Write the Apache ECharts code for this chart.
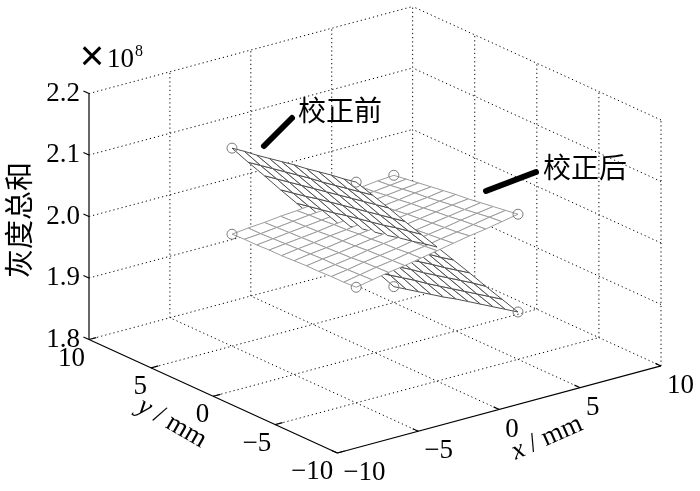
<!DOCTYPE html>
<html>
<head>
<meta charset="utf-8">
<title>灰度总和</title>
<script src="https://cdn.jsdelivr.net/npm/echarts@6/dist/echarts.min.js"></script>
<style>
    html, body { margin: 0; padding: 0; background: #fff; }
    #statistics { width: 700px; height: 491px; }
</style>
</head>
<body>
<div id="statistics"></div>
<script type="text/javascript">
    // mesh nodes (mm)
    var gridX = [-5, -4, -3, -2, -1, 0, 1, 2, 3, 4, 5];
    var gridY = [5, 4, 3, 2, 1, 0, -1, -2, -3, -4, -5];

    // 灰度总和 (x10^8), one row per gridY value, one column per gridX value
    var zBefore = [
        [2.122, 2.092, 2.063, 2.033, 2.004, 1.974, 1.944, 1.915, 1.885, 1.856, 1.826],
        [2.126, 2.096, 2.067, 2.037, 2.008, 1.978, 1.949, 1.919, 1.890, 1.861, 1.831],
        [2.129, 2.100, 2.071, 2.041, 2.012, 1.983, 1.954, 1.924, 1.895, 1.866, 1.836],
        [2.133, 2.104, 2.075, 2.046, 2.016, 1.987, 1.958, 1.929, 1.900, 1.871, 1.841],
        [2.137, 2.108, 2.079, 2.050, 2.021, 1.992, 1.963, 1.934, 1.905, 1.875, 1.846],
        [2.141, 2.112, 2.083, 2.054, 2.025, 1.996, 1.967, 1.938, 1.909, 1.880, 1.852],
        [2.144, 2.115, 2.087, 2.058, 2.029, 2.000, 1.972, 1.943, 1.914, 1.885, 1.857],
        [2.148, 2.119, 2.091, 2.062, 2.033, 2.005, 1.976, 1.948, 1.919, 1.890, 1.862],
        [2.152, 2.123, 2.095, 2.066, 2.038, 2.009, 1.981, 1.952, 1.924, 1.895, 1.867],
        [2.155, 2.127, 2.099, 2.070, 2.042, 2.014, 1.985, 1.957, 1.929, 1.900, 1.872],
        [2.159, 2.131, 2.103, 2.074, 2.046, 2.018, 1.990, 1.962, 1.933, 1.905, 1.877]
    ];
    var zAfter = [
        [1.982, 1.985, 1.987, 1.990, 1.992, 1.995, 1.997, 2.000, 2.002, 2.005, 2.007],
        [1.983, 1.985, 1.988, 1.991, 1.994, 1.996, 1.999, 2.002, 2.004, 2.007, 2.010],
        [1.983, 1.986, 1.989, 1.992, 1.995, 1.998, 2.001, 2.004, 2.007, 2.010, 2.013],
        [1.984, 1.987, 1.990, 1.993, 1.997, 2.000, 2.003, 2.006, 2.009, 2.013, 2.016],
        [1.984, 1.988, 1.991, 1.995, 1.998, 2.002, 2.005, 2.008, 2.012, 2.015, 2.019],
        [1.985, 1.989, 1.992, 1.996, 2.000, 2.003, 2.007, 2.011, 2.014, 2.018, 2.022],
        [1.986, 1.990, 1.993, 1.997, 2.001, 2.005, 2.009, 2.013, 2.017, 2.021, 2.024],
        [1.986, 1.990, 1.994, 1.999, 2.003, 2.007, 2.011, 2.015, 2.019, 2.023, 2.027],
        [1.987, 1.991, 1.996, 2.000, 2.004, 2.009, 2.013, 2.017, 2.022, 2.026, 2.030],
        [1.987, 1.992, 1.997, 2.001, 2.006, 2.010, 2.015, 2.019, 2.024, 2.029, 2.033],
        [1.988, 1.993, 1.998, 2.002, 2.007, 2.012, 2.017, 2.022, 2.026, 2.031, 2.036]
    ];

    var xyTicks = [-10, -5, 0, 5, 10];
    var xyTickText = ['\u221210', '\u22125', '0', '5', '10'];
    var zTicks = [1.8, 1.9, 2.0, 2.1, 2.2];
    var zTickText = ['1.8', '1.9', '2.0', '2.1', '2.2'];
    var xRange = [-10, 10], yRange = [-10, 10], zRange = [1.8, 2.2];

    // 视角 (like matlab view(-37.5, 20.5))
    var az = -37.5 * Math.PI / 180, el = 20.5 * Math.PI / 180, zAspect = 0.643;
    var sa = Math.sin(az), ca = Math.cos(az), se = Math.sin(el), ce = Math.cos(el);

    function norm(x, y, z) {
        return [
            (x - xRange[0]) / (xRange[1] - xRange[0]) - 0.5,
            (y - yRange[0]) / (yRange[1] - yRange[0]) - 0.5,
            ((z - zRange[0]) / (zRange[1] - zRange[0]) - 0.5) * zAspect
        ];
    }
    function proj(x, y, z) {
        var n = norm(x, y, z);
        return [n[0] * ca + n[1] * sa, -n[0] * sa * se + n[1] * ca * se + n[2] * ce];
    }
    function depth(x, y, z) {
        var n = norm(x, y, z);
        return n[0] * sa * ce - n[1] * ca * ce + n[2] * se;
    }

    // extent of the box on screen
    var hMin = Infinity, hMax = -Infinity, vMin = Infinity, vMax = -Infinity;
    [0, 1].forEach(function (i) {
        [0, 1].forEach(function (j) {
            [0, 1].forEach(function (k) {
                var p = proj(xRange[i], yRange[j], zRange[k]);
                hMin = Math.min(hMin, p[0]); hMax = Math.max(hMax, p[0]);
                vMin = Math.min(vMin, p[1]); vMax = Math.max(vMax, p[1]);
            });
        });
    });

    // dotted grid lines on the back walls and floor
    var gridSegs = [];
    xyTicks.forEach(function (x) {
        if (x > xRange[0]) {
            gridSegs.push([x, yRange[1], zRange[0], x, yRange[1], zRange[1]]);
            gridSegs.push([x, yRange[0], zRange[0], x, yRange[1], zRange[0]]);
        }
    });
    xyTicks.forEach(function (y) {
        if (y < yRange[1]) gridSegs.push([xRange[1], y, zRange[0], xRange[1], y, zRange[1]]);
        if (y > yRange[0]) gridSegs.push([xRange[0], y, zRange[0], xRange[1], y, zRange[0]]);
    });
    zTicks.forEach(function (z) {
        if (z > zRange[0]) {
            gridSegs.push([xRange[0], yRange[1], z, xRange[1], yRange[1], z]);
            gridSegs.push([xRange[1], yRange[0], z, xRange[1], yRange[1], z]);
        }
    });

    // solid axes and ticks
    var axisSegs = [
        [xRange[0], yRange[1], zRange[0], xRange[0], yRange[1], zRange[1]],
        [xRange[0], yRange[1], zRange[0], xRange[0], yRange[0], zRange[0]],
        [xRange[0], yRange[0], zRange[0], xRange[1], yRange[0], zRange[0]]
    ];
    var tickLen = 0.45;
    zTicks.forEach(function (z) { axisSegs.push([xRange[0], yRange[1], z, xRange[0], yRange[1] + tickLen, z]); });
    xyTicks.forEach(function (v) {
        axisSegs.push([v, yRange[0], zRange[0], v, yRange[0] + tickLen, zRange[0]]);
        axisSegs.push([xRange[0], v, zRange[0], xRange[0] + tickLen, v, zRange[0]]);
    });

    // mesh cells, far ones first
    var quads = [];
    [zBefore, zAfter].forEach(function (Z, s) {
        for (var r = 0; r < gridY.length - 1; r++) {
            for (var c = 0; c < gridX.length - 1; c++) {
                var pts = [
                    [gridX[c], gridY[r], Z[r][c]],
                    [gridX[c + 1], gridY[r], Z[r][c + 1]],
                    [gridX[c + 1], gridY[r + 1], Z[r + 1][c + 1]],
                    [gridX[c], gridY[r + 1], Z[r + 1][c]]
                ];
                var d = 0;
                pts.forEach(function (p) { d += depth(p[0], p[1], p[2]) / 4; });
                quads.push({ s: s, pts: pts, d: d });
            }
        }
    });
    quads.sort(function (a, b) { return a.d - b.d; });

    // measured points (circles) at the mesh corners
    var last = gridX.length - 1;
    var corners = [];
    [zBefore, zAfter].forEach(function (Z) {
        [[0, 0], [0, last], [last, 0], [last, last]].forEach(function (rc) {
            corners.push([gridX[rc[1]], gridY[rc[0]], Z[rc[0]][rc[1]]]);
        });
    });

    // tick labels
    var tickFont = '27px "Liberation Serif", "Times New Roman", serif';
    var tickLabels = [];
    zTicks.forEach(function (z, i) {
        tickLabels.push({ p: [xRange[0], yRange[1], z], dx: -9, dy: 0, text: zTickText[i], align: 'right' });
    });
    xyTicks.forEach(function (v, i) {
        tickLabels.push({ p: [xRange[0], v, zRange[0]], dx: -4, dy: 19, text: xyTickText[i], align: 'right' });
        tickLabels.push({ p: [v, yRange[0], zRange[0]], dx: 6, dy: 20, text: xyTickText[i], align: 'left' });
    });

    var meshColor = ['#4e4e4e', '#9c9c9c'];
    var italic = { i: { fontStyle: 'italic', fontSize: 27, fontFamily: 'Liberation Serif' } };

    var option = {
        animation: false,
        grid: { left: 89, right: 39, top: 6.5, bottom: 38 },
        xAxis: { type: 'value', min: hMin, max: hMax, show: false },
        yAxis: { type: 'value', min: vMin, max: vMax, show: false },
        series: [
            {
                type: 'custom', silent: true, clip: false, z: 1,
                data: gridSegs.map(function (g) { return proj(g[0], g[1], g[2]); }),
                renderItem: function (params, api) {
                    var g = gridSegs[params.dataIndex];
                    var a = api.coord(proj(g[0], g[1], g[2])), b = api.coord(proj(g[3], g[4], g[5]));
                    return { type: 'line', shape: { x1: a[0], y1: a[1], x2: b[0], y2: b[1] },
                        style: { stroke: '#000', lineWidth: 1, lineDash: [1.2, 3] } };
                }
            },
            {
                type: 'custom', silent: true, clip: false, z: 2,
                data: axisSegs.map(function (g) { return proj(g[0], g[1], g[2]); }),
                renderItem: function (params, api) {
                    var g = axisSegs[params.dataIndex];
                    var a = api.coord(proj(g[0], g[1], g[2])), b = api.coord(proj(g[3], g[4], g[5]));
                    return { type: 'line', shape: { x1: a[0], y1: a[1], x2: b[0], y2: b[1] },
                        style: { stroke: '#000', lineWidth: 1.2 } };
                }
            },
            {
                type: 'custom', silent: true, clip: false, z: 3,
                data: quads.map(function (q) { return proj(q.pts[0][0], q.pts[0][1], q.pts[0][2]); }),
                renderItem: function (params, api) {
                    var q = quads[params.dataIndex];
                    var pts = q.pts.map(function (p) { return api.coord(proj(p[0], p[1], p[2])); });
                    return { type: 'polygon', shape: { points: pts },
                        style: { fill: '#fff', stroke: meshColor[q.s], lineWidth: 1 } };
                }
            },
            {
                type: 'custom', silent: true, clip: false, z: 4,
                data: corners.map(function (p) { return proj(p[0], p[1], p[2]); }),
                renderItem: function (params, api) {
                    var p = corners[params.dataIndex];
                    var c = api.coord(proj(p[0], p[1], p[2]));
                    return { type: 'circle', shape: { cx: c[0], cy: c[1], r: 5 },
                        style: { fill: 'none', stroke: '#7a7a7a', lineWidth: 1 } };
                }
            },
            {
                type: 'custom', silent: true, clip: false, z: 5,
                data: tickLabels.map(function (t) { return proj(t.p[0], t.p[1], t.p[2]); }),
                renderItem: function (params, api) {
                    var t = tickLabels[params.dataIndex];
                    var c = api.coord(proj(t.p[0], t.p[1], t.p[2]));
                    return { type: 'text', x: c[0] + t.dx, y: c[1] + t.dy,
                        style: { text: t.text, fill: '#000', font: tickFont,
                            align: t.align, textAlign: t.align, verticalAlign: 'middle', textVerticalAlign: 'middle' } };
                }
            }
        ],
        graphic: [
            { type: 'text', x: 92, y: 58, style: { text: '\u00d7', fill: '#000', font: '42px "Liberation Sans", sans-serif', align: 'center', verticalAlign: 'middle' } },
            { type: 'text', x: 107, y: 60, style: { text: '10', fill: '#000', font: tickFont, align: 'left', verticalAlign: 'middle' } },
            { type: 'text', x: 135, y: 52, style: { text: '8', fill: '#000', font: '16px "Liberation Serif", serif', align: 'left', verticalAlign: 'middle' } },
            { type: 'text', x: 19, y: 220, rotation: Math.PI / 2,
              style: { text: '灰度总和', fill: '#000', font: '29px "Noto Sans CJK SC"', align: 'center', verticalAlign: 'middle' } },
            { type: 'text', x: 172, y: 423, rotation: -30 * Math.PI / 180,
              style: { text: '{i|y} / mm', fill: '#000', font: tickFont, align: 'center', verticalAlign: 'middle', rich: italic } },
            { type: 'text', x: 547, y: 438, rotation: 24 * Math.PI / 180,
              style: { text: '{i|x} / mm', fill: '#000', font: tickFont, align: 'center', verticalAlign: 'middle', rich: italic } },
            // 标注
            { type: 'line', shape: { x1: 264, y1: 146, x2: 292, y2: 118 }, style: { stroke: '#000', lineWidth: 6, lineCap: 'round' } },
            { type: 'text', x: 340, y: 110, style: { text: '校正前', fill: '#000', font: '28px "Noto Sans CJK SC"', align: 'center', verticalAlign: 'middle' } },
            { type: 'line', shape: { x1: 486, y1: 191, x2: 536, y2: 172 }, style: { stroke: '#000', lineWidth: 6, lineCap: 'round' } },
            { type: 'text', x: 585, y: 167, style: { text: '校正后', fill: '#000', font: '28px "Noto Sans CJK SC"', align: 'center', verticalAlign: 'middle' } }
        ]
    };
    var myChart = echarts.init(document.getElementById('statistics'));
    myChart.setOption(option);
</script>
</body>
</html>
